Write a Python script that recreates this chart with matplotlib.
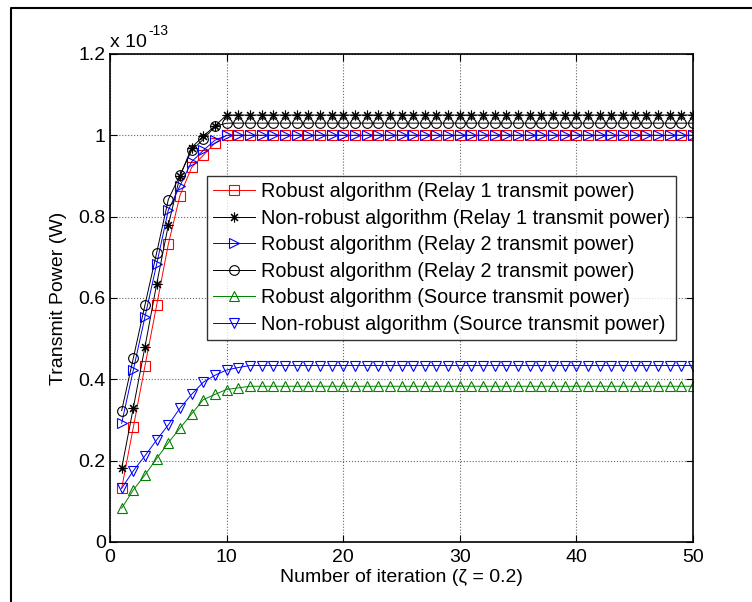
import matplotlib
matplotlib.use("Agg")
import matplotlib.pyplot as plt
from matplotlib.lines import Line2D
from matplotlib.ticker import FuncFormatter

plt.rcParams['font.family'] = ['Liberation Sans', 'DejaVu Sans']

# iteration index 1..50, power in units of 1e-13 W
iterations = list(range(1, 51))

robust_relay1 = [0.132, 0.282, 0.433, 0.582, 0.732, 0.852, 0.921, 0.951, 0.981, 1.0] + [1.0] * 40
nonrobust_relay1 = [0.181, 0.33, 0.48, 0.634, 0.779, 0.899, 0.97, 0.998, 1.023, 1.05] + [1.05] * 40
robust_relay2 = [0.292, 0.423, 0.554, 0.683, 0.816, 0.876, 0.935, 0.963, 0.988, 1.0] + [1.0] * 40
robust_relay2_b = [0.323, 0.452, 0.583, 0.711, 0.842, 0.902, 0.963, 0.99, 1.022, 1.03] + [1.03] * 40
robust_source = [0.083, 0.128, 0.165, 0.205, 0.244, 0.28, 0.315, 0.35, 0.363, 0.375,
                 0.379] + [0.383] * 39
nonrobust_source = [0.132, 0.175, 0.212, 0.251, 0.288, 0.329, 0.363, 0.393, 0.41, 0.423,
                    0.429] + [0.434] * 39

labels = [
    "Robust algorithm (Relay 1 transmit power)",
    "Non-robust algorithm (Relay 1 transmit power)",
    "Robust algorithm (Relay 2 transmit power)",
    "Robust algorithm (Relay 2 transmit power)",
    "Robust algorithm (Source transmit power)",
    "Non-robust algorithm (Source transmit power)",
]

fs = 14

fig = plt.figure(figsize=(7.52, 6.02), dpi=100)
ax = fig.add_axes([110 / 752, 1 - 542 / 602, 583 / 752, 488 / 602])

lw = 0.7
ax.plot(iterations, robust_relay1, color='#ff0000', lw=lw, marker='s', ms=7,
        mfc='none', mew=0.8, label=labels[0])
ax.plot(iterations, nonrobust_relay1, color='black', lw=lw, marker=(8, 2, 0), ms=7,
        mew=0.8, label=labels[1])
ax.plot(iterations, robust_relay2, color='#0000ff', lw=lw, marker='>', ms=7.5,
        mfc='none', mew=0.8, label=labels[2])
ax.plot(iterations, robust_relay2_b, color='black', lw=lw, marker='o', ms=7,
        mfc='none', mew=0.8, label=labels[3])
ax.plot(iterations, robust_source, color='#008000', lw=lw, marker='^', ms=7.5,
        mfc='none', mew=0.8, label=labels[4])
ax.plot(iterations, nonrobust_source, color='#0000ff', lw=lw, marker='v', ms=7.5,
        mfc='none', mew=0.8, label=labels[5])

ax.set_xlim(0, 50)
ax.set_ylim(0, 1.2)
ax.set_xticks([0, 10, 20, 30, 40, 50])
ax.set_yticks([0, 0.2, 0.4, 0.6, 0.8, 1.0, 1.2])
ax.yaxis.set_major_formatter(FuncFormatter(lambda v, p: '%g' % round(v, 2)))
ax.tick_params(direction='in', length=5, width=0.8, top=True, right=True,
               labelsize=fs)
ax.tick_params(axis='x', pad=5)
ax.tick_params(axis='y', pad=3)
ax.grid(True, linestyle=':', color='#666666', lw=0.8)
for s in ax.spines.values():
    s.set_linewidth(1.2)

ax.set_xlabel("Number of iteration (\u03b6 = 0.2)", fontsize=fs, labelpad=2)
ax.set_ylabel("Transmit Power (W)", fontsize=fs, labelpad=8)

leg = ax.legend(loc='upper left', bbox_to_anchor=((207 - 110) / 583, 1 - (176 - 54) / 488),
                prop={'size': 14.3}, frameon=True, fancybox=False, borderpad=0.3,
                labelspacing=0.38, handlelength=2.1, handletextpad=0.3, borderaxespad=0)
leg.get_frame().set_edgecolor('black')
leg.get_frame().set_linewidth(1.0)

# scale factor text
fig.text(110 / 752, 1 - 47 / 602, "x 10", fontsize=fs, va='baseline', ha='left')
fig.text(148 / 752, 1 - 35 / 602, "-13", fontsize=10, va='baseline', ha='left')

# frame around figure
fig.add_artist(Line2D([10.5 / 752, 10.5 / 752, 1], [0, 1 - 8 / 602, 1 - 8 / 602],
                      color='black', lw=1.5, transform=fig.transFigure))

fig.savefig("out.png", dpi=100)
